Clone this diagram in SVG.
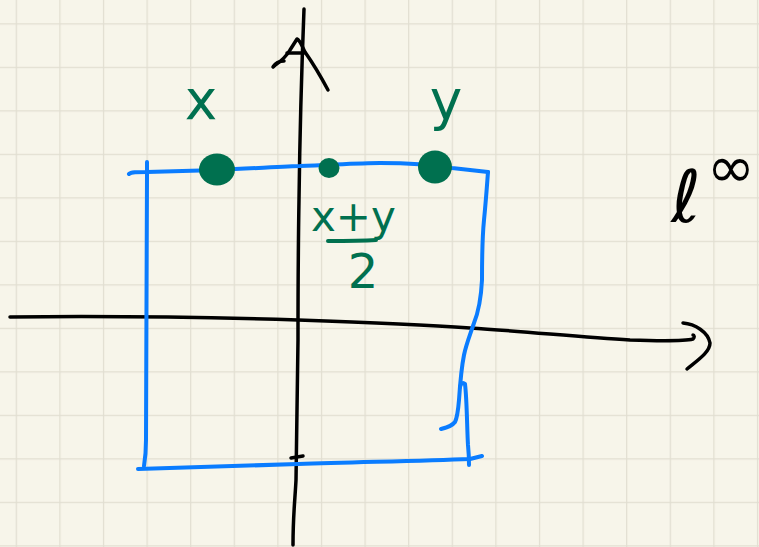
<svg xmlns="http://www.w3.org/2000/svg" width="759" height="547" viewBox="0 0 759 547">
  <defs>
    <pattern id="grid" x="15.7" y="23.3" width="43.6" height="43.5" patternUnits="userSpaceOnUse">
      <path d="M0,0 H43.6 M0,0 V43.5" fill="none" stroke="#e1ded1" stroke-width="2.5"/>
    </pattern>
  </defs>
  <style>
    .ink { fill: none; stroke-linecap: round; stroke-linejoin: round; }
    .black { stroke: #000; stroke-width: 3.5; }
    .blue { stroke: #0a7cff; stroke-width: 4; }
    .green { fill: #00704f; }
    .gtxt { fill: #00704f; font-family: "DejaVu Sans", "Liberation Sans", sans-serif; }
    .ktxt { fill: #000; font-family: "DejaVu Sans", sans-serif; }
  </style>
  <rect width="759" height="547" fill="#f7f5ea"/>
  <rect width="759" height="547" fill="url(#grid)"/>

  <g id="connectors">
    <g id="y-axis">
      <path class="ink black" d="M304,9 C302,60 300,120 299,200 C298,260 298,300 298,340 C297,400 297,440 296,480 C295,500 293,515 293,545"/>
      <path class="ink black" d="M274,66 C280,62 286,57 290,50 L297,39 C300,40 302,46 305,52 C312,62 320,75 328,90"/>
      <path class="ink black" d="M287,53 L304,53"/>
      <path class="ink black" d="M273,67 C276,62 281,61 284,61" stroke-width="7"/>
      <path class="ink black" d="M291,458 L303,456" stroke-width="5"/>
    </g>
    <g id="x-axis">
      <path class="ink black" d="M10,317 C100,316 200,317 298,320 C380,323 440,326 470,328 C520,331 580,337 630,340 C660,341 685,341 693,339 C695,337 694,335 693,335"/>
      <path class="ink black" d="M683,323 C695,324 708,332 710,343 C710,352 698,360 687,369"/>
    </g>
  </g>

  <g id="square">
    <path class="ink blue" d="M129,174 C131,172 136,172 147,172 L218,170 C260,168 290,166 300,166 C330,165 360,163 380,163 C410,163 440,166 452,168 L488,172"/>
    <path class="ink blue" d="M147,162 L147,175 C147,250 146,360 146,440 C146,452 145,460 144,466"/>
    <path class="ink blue" d="M138,469 C200,467 250,465 298,464 C360,462 420,461 470,459 L482,456"/>
    <path class="ink blue" d="M488,172 C487,185 486,200 484,220 C482,240 482,265 482,280 C481,300 478,313 474,323 C470,335 466,345 464,355 C461,370 460,385 459,400 C458,412 457,418 455,422 C452,426 448,427 441,429"/>
    <path class="ink blue" d="M460,387 C461,383 463,382 465,384 C467,400 467,430 468,445 C469,455 469,460 469,465"/>
  </g>

  <g id="point-x">
    <ellipse class="green" cx="217" cy="169.5" rx="18" ry="16"/>
    <text class="gtxt" x="201" y="119" font-size="55" text-anchor="middle">x</text>
  </g>
  <g id="point-mid">
    <ellipse class="green" cx="329" cy="168" rx="10.5" ry="10"/>
    <text class="gtxt" x="311" y="231" font-size="42">x+y</text>
    <path class="ink" d="M328,241 C345,241 360,241 376,240" stroke="#00704f" stroke-width="4"/>
    <text class="gtxt" x="363" y="288" font-size="48" text-anchor="middle">2</text>
  </g>
  <g id="point-y">
    <ellipse class="green" cx="435" cy="167" rx="17" ry="16.5"/>
    <text class="gtxt" x="446" y="119" font-size="55" text-anchor="middle">y</text>
  </g>

  <g id="label-linf">
    <text class="ktxt" x="686" y="222" font-size="72" font-style="italic" text-anchor="middle">ℓ</text>
    <text class="ktxt" x="731" y="187" font-size="58" text-anchor="middle">∞</text>
  </g>
</svg>
